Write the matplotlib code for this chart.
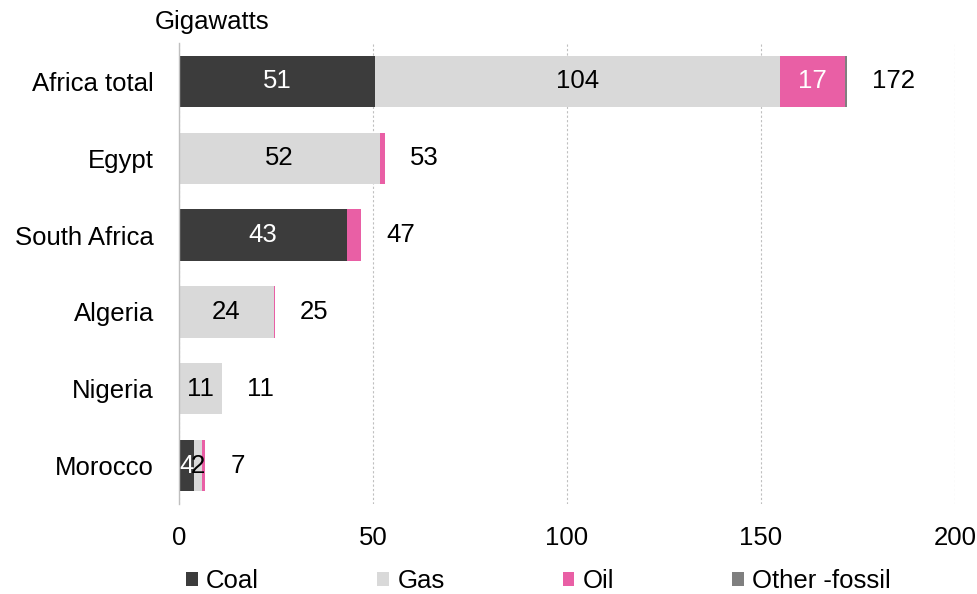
import matplotlib
matplotlib.use('Agg')
import matplotlib.pyplot as plt
from matplotlib.patches import Patch
import numpy as np

## Data -- installed fossil capacity, GW
countries = ['Africa total', 'Egypt', 'South Africa', 'Algeria', 'Nigeria', 'Morocco']
coal = [50.6, 0.0, 43.4, 0.0, 0.0, 3.9]
gas = [104.2, 51.8, 0.0, 24.4, 11.2, 1.9]
oil = [16.8, 1.2, 3.5, 0.4, 0.0, 0.9]
other = [0.5, 0.1, 0.0, 0.0, 0.0, 0.1]
series_names = ['Coal', 'Gas', 'Oil', 'Other -fossil']
x_ticks = [0, 50, 100, 150, 200]

## Styling
colors = {'Coal': '#3c3c3c', 'Gas': '#d9d9d9', 'Oil': '#e95fa5', 'Other -fossil': '#7f7f7f'}
text_colors = {'Coal': 'white', 'Gas': 'black', 'Oil': 'white', 'Other -fossil': 'white'}
min_label = {'Coal': 1.5, 'Gas': 1.5, 'Oil': 5.0, 'Other -fossil': 1e9}
fs = 18.5

plt.rcParams['font.family'] = ['Liberation Sans', 'DejaVu Sans']
plt.rcParams['font.size'] = fs

fig = plt.figure(figsize=(9.78, 5.94), dpi=100)
ax = fig.add_axes([179/978, 1-504/594, (955-179)/978, (504-43)/594])

y = np.arange(len(countries))
left = np.zeros(len(countries))
for name, vals in zip(series_names, [coal, gas, oil, other]):
    vals = np.array(vals)
    ax.barh(y, vals, left=left, height=0.67, color=colors[name], zorder=3)
    for yi, (l, v) in enumerate(zip(left, vals)):
        if v >= min_label[name]:
            ax.text(l + v/2, yi, f'{v:.0f}', ha='center', va='center',
                    color=text_colors[name], fontsize=fs, zorder=4)
    left += vals

# totals to the right of each bar
for yi, tot in enumerate(left):
    ax.annotate(f'{tot:.0f}', xy=(tot, yi), xytext=(25, 0), textcoords='offset pixels',
                ha='left', va='center', fontsize=fs)

ax.set_ylim(len(countries) - 0.5, -0.5)
ax.set_xlim(0, 200)
ax.set_yticks(y)
ax.set_yticklabels(countries)
ax.set_xticks(x_ticks)
ax.tick_params(axis='both', length=0, labelsize=fs)
ax.tick_params(axis='y', pad=18)
ax.tick_params(axis='x', pad=16)

ax.grid(axis='x', linestyle=(0, (2, 2)), color='#bfbfbf', linewidth=0.8, zorder=0)
ax.grid(axis='y', visible=False)
for s in ['top', 'right', 'bottom']:
    ax.spines[s].set_visible(False)
ax.spines['left'].set_color('#bfbfbf')
ax.spines['left'].set_linewidth(1.0)
ax.spines['left'].set_zorder(5)

fig.text(155/978, 1-22/594, 'Gigawatts', ha='left', va='center', fontsize=fs)

handles = [Patch(facecolor=colors[n], edgecolor='none') for n in series_names]
fig.legend(handles=handles, labels=series_names, ncol=4,
           loc='center left', bbox_to_anchor=(186/978, 1-581/594), frameon=False,
           handlelength=0.45, handleheight=0.45, handletextpad=0.33,
           columnspacing=4.6, borderpad=0, borderaxespad=0, fontsize=fs)

fig.savefig('out.png', dpi=100)
